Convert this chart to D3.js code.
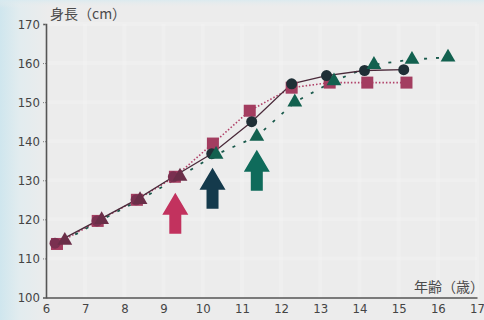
<!DOCTYPE html>
<html><head><meta charset="utf-8">
<script src="https://cdn.jsdelivr.net/npm/d3@7"></script>
<style>html,body{margin:0;padding:0;background:#ececec;}svg{display:block;}</style>
</head><body>
<script>
// ---- data ----
const xTicks = [6,7,8,9,10,11,12,13,14,15,16,17];
const yTicks = [100,110,120,130,140,150,160,170];

const squareAges    = [6.28,7.32,8.32,9.29,10.26,11.2,12.27,13.24,14.2,15.2];
const squareHeights = [113.7,119.6,125.0,130.9,139.4,147.8,153.7,155.0,155.0,155.0];

const circleAges    = [6.23,7.3,8.3,9.25,10.23,11.25,12.27,13.16,14.13,15.13];
const circleHeights = [113.9,119.6,125.0,130.9,136.8,145.0,154.7,156.8,158.1,158.3];

const triangleAges    = [6.48,7.42,8.4,9.42,10.34,11.38,12.35,13.35,14.37,15.34,16.26];
const triangleHeights = [114.6,119.9,125.0,131.0,136.6,141.2,150.0,155.4,159.6,160.9,161.5];

const arrowAges = [9.3,10.25,11.38];
const arrowTips = [126.8,133.2,137.8];
const arrowColors = ["#c2325e","#143a4c","#0f6b5b"];

const W = 484, H = 320;
const svg = d3.select("body").append("svg").attr("width",W).attr("height",H);

// background
const defs = svg.append("defs");
const lg = defs.append("linearGradient").attr("id","bgL").attr("x1",0).attr("x2",1).attr("y1",0).attr("y2",0);
lg.append("stop").attr("offset","0%").attr("stop-color","#cfe6ee");
lg.append("stop").attr("offset","4%").attr("stop-color","#e2ecef");
lg.append("stop").attr("offset","10%").attr("stop-color","#ececec");
lg.append("stop").attr("offset","100%").attr("stop-color","#ececec");
svg.append("rect").attr("width",W).attr("height",H).attr("fill","url(#bgL)");
const tg = defs.append("linearGradient").attr("id","bgT").attr("x1",0).attr("x2",0).attr("y1",0).attr("y2",1);
tg.append("stop").attr("offset","0%").attr("stop-color","#d8eaf0").attr("stop-opacity",0.8);
tg.append("stop").attr("offset","100%").attr("stop-color","#ececec").attr("stop-opacity",0);
svg.append("rect").attr("width",W).attr("height",8).attr("fill","url(#bgT)");

const x = d3.scaleLinear().domain([6,17]).range([46,477]);
const y = d3.scaleLinear().domain([100,170]).range([297.5,24]);

// faint grid
const g = svg.append("g");
g.selectAll("line.vg").data(xTicks.slice(1)).join("line")
  .attr("x1",d=>x(d)).attr("x2",d=>x(d)).attr("y1",y(170)).attr("y2",y(100))
  .attr("stroke","#f4f4f4").attr("stroke-width",4).attr("opacity",0.45);
g.selectAll("line.hg").data(yTicks.slice(1)).join("line")
  .attr("x1",x(6)).attr("x2",x(17)).attr("y1",d=>y(d)).attr("y2",d=>y(d))
  .attr("stroke","#f4f4f4").attr("stroke-width",4).attr("opacity",0.45);

const font = "'DejaVu Sans Condensed','DejaVu Sans',sans-serif";

// axes
const yAxis = svg.append("g").attr("transform",`translate(${x(6)},0)`)
  .call(d3.axisLeft(y).tickValues(yTicks).tickSize(3).tickPadding(3));
const xAxis = svg.append("g").attr("transform",`translate(0,${y(100)})`)
  .call(d3.axisBottom(x).tickValues(xTicks).tickSize(0).tickPadding(6));
[yAxis,xAxis].forEach(a=>{
  a.select(".domain").attr("stroke","#555").attr("stroke-width",1.6);
  a.selectAll(".tick line").attr("stroke","#777").attr("stroke-dasharray","1,1");
  a.selectAll("text").attr("fill","#444").attr("font-size",13).attr("font-family",font);
});
xAxis.selectAll(".tick line").remove();

// axis titles
svg.append("text").attr("x",50).attr("y",19).text("身長（cm）")
  .attr("font-family","'Noto Sans CJK JP',sans-serif").attr("font-size",14).attr("fill","#4a4a4a");
svg.append("text").attr("x",484).attr("y",292).attr("text-anchor","end").text("年齢（歳）")
  .attr("font-family","'Noto Sans CJK JP',sans-serif").attr("font-size",14).attr("fill","#4a4a4a");

const line = d3.line().x(d=>x(d[0])).y(d=>y(d[1]));
const sq = d3.zip(squareAges,squareHeights);
const ci = d3.zip(circleAges,circleHeights);
const tr = d3.zip(triangleAges,triangleHeights);

svg.append("path").datum(sq).attr("d",line).attr("fill","none")
  .attr("stroke","#b04068").attr("stroke-width",1.6).attr("stroke-dasharray","1.5,2");
svg.append("path").datum(tr).attr("d",line).attr("fill","none")
  .attr("stroke","#1a5a4c").attr("stroke-width",1.8).attr("stroke-dasharray","3,9");
svg.append("path").datum(ci).attr("d",line).attr("fill","none")
  .attr("stroke","#4a2a3a").attr("stroke-width",1.3);

// markers
svg.selectAll("rect.sq").data(sq).join("rect")
  .attr("x",d=>x(d[0])-6).attr("y",d=>y(d[1])-6).attr("width",12).attr("height",12)
  .attr("fill","#a33d60");
svg.selectAll("circle.ci").data(ci).join("circle")
  .attr("cx",d=>x(d[0])).attr("cy",d=>y(d[1])).attr("r",5.5)
  .attr("fill",(d,i)=>i<4?"#7a3050":"#1f2f36");
const tri = d3.symbol().type(d3.symbolTriangle).size(95);
svg.selectAll("path.tr").data(tr).join("path")
  .attr("transform",d=>`translate(${x(d[0])},${y(d[1])})`)
  .attr("d",tri).attr("fill",(d,i)=>i<4?"#6a2e48":"#12614f");

// arrows
arrowAges.forEach((a,i)=>{
  const cx = x(a), ty = y(arrowTips[i]);
  const pts = [[cx,ty],[cx+13,ty+22],[cx+6,ty+22],[cx+6,ty+41],[cx-6,ty+41],[cx-6,ty+22],[cx-13,ty+22]];
  svg.append("path").attr("d",d3.line()(pts)+"Z").attr("fill",arrowColors[i]);
});
</script>
</body></html>
